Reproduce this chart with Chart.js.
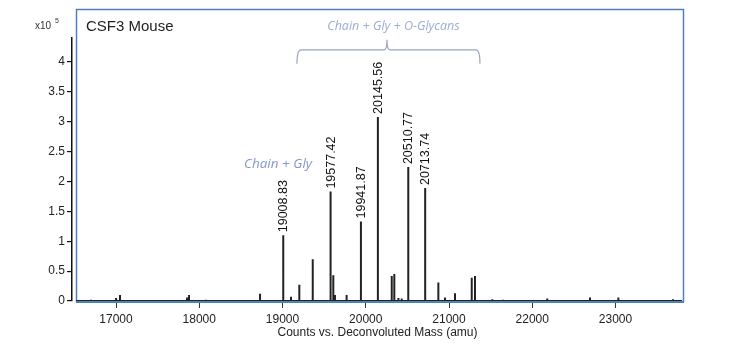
<!DOCTYPE html>
<html>
<head>
<meta charset="utf-8">
<script src="https://cdn.jsdelivr.net/npm/chart.js@4.4.1/dist/chart.umd.min.js"></script>
<style>
  html, body { margin: 0; padding: 0; background: #ffffff; }
  #wrap { width: 741px; height: 355px; position: relative; }
</style>
</head>
<body>
<div id="wrap"><canvas id="c" width="741" height="355"></canvas></div>
<script>
// ---- data (counts x10^5 vs deconvoluted mass, amu) ----
const peakMass = [16700, 17000, 17048, 17853, 17877, 18080, 18730, 19008.83, 19102, 19202, 19363,
  19577.42, 19610, 19630, 19770, 19941.87, 20145.56, 20312, 20343, 20392, 20432, 20510.77,
  20713.74, 20872, 20952, 21072, 21273, 21312, 21520, 21650, 22180, 22694, 23034, 23690];
const peakHeight = [0.02, 0.05, 0.10, 0.06, 0.10, 0.02, 0.12, 1.10, 0.07, 0.27, 0.70,
  1.83, 0.43, 0.10, 0.10, 1.33, 3.08, 0.42, 0.45, 0.05, 0.04, 2.24,
  1.89, 0.31, 0.06, 0.13, 0.39, 0.42, 0.03, 0.02, 0.04, 0.06, 0.06, 0.03];
const baselineMass = [16520, 23800];
const baselineHeight = [0, 0];
const labelledMass = [19008.83, 19577.42, 19941.87, 20145.56, 20510.77, 20713.74];
const labelledText = ["19008.83", "19577.42", "19941.87", "20145.56", "20510.77", "20713.74"];
const xTicks = [17000, 18000, 19000, 20000, 21000, 22000, 23000];
const yTicks = [0, 0.5, 1, 1.5, 2, 2.5, 3, 3.5, 4];
const yTickLabels = ["0", "0.5", "1", "1.5", "2", "2.5", "3", "3.5", "4"];
const titleText = "CSF3 Mouse";
const xTitle = "Counts vs. Deconvoluted Mass (amu)";
const chainGlyText = "Chain + Gly";
const oGlycanText = "Chain + Gly + O-Glycans";

// ---- build stick spectrum points ----
const pts = [];
baselineMass.forEach((m, i) => pts.push({x: m, y: baselineHeight[i]}));
peakMass.forEach((m, i) => {
  pts.push({x: m - 0.01, y: 0});
  pts.push({x: m, y: peakHeight[i]});
  pts.push({x: m + 0.01, y: 0});
});
pts.sort((a, b) => a.x - b.x);

const FONT = "'Liberation Sans', Arial, sans-serif";

const decor = {
  id: 'decor',
  beforeDatasetsDraw(chart) {
    const ctx = chart.ctx;
    ctx.save();
    ctx.strokeStyle = '#4f81bd';
    ctx.lineWidth = 1.5;
    ctx.beginPath();
    ctx.moveTo(76.5, 302);
    ctx.lineTo(76.5, 9.5);
    ctx.lineTo(683.5, 9.5);
    ctx.lineTo(683.5, 302);
    ctx.stroke();
    ctx.lineWidth = 2;
    ctx.beginPath();
    ctx.moveTo(76, 302);
    ctx.lineTo(684, 302);
    ctx.stroke();
    ctx.restore();
  },
  afterDraw(chart) {
    const ctx = chart.ctx;
    const xs = chart.scales.x, ys = chart.scales.y;
    ctx.save();
    // peak labels
    ctx.fillStyle = '#111';
    ctx.font = '12.5px ' + FONT;
    ctx.textAlign = 'left';
    ctx.textBaseline = 'middle';
    labelledMass.forEach((m, i) => {
      const h = peakHeight[peakMass.indexOf(m)];
      const px = xs.getPixelForValue(m);
      const py = ys.getPixelForValue(h) - 3;
      ctx.save();
      ctx.translate(px, py);
      ctx.rotate(-Math.PI / 2);
      ctx.fillText(labelledText[i], 0, 0.5);
      ctx.restore();
    });
    // title
    ctx.fillStyle = '#222';
    ctx.font = '15px ' + FONT;
    ctx.textBaseline = 'alphabetic';
    ctx.fillText(titleText, 86, 31);
    // x10^5
    ctx.font = '10px ' + FONT;
    ctx.fillStyle = '#333';
    ctx.fillText('x10', 35, 29);
    ctx.font = '7px ' + FONT;
    ctx.fillText('5', 55, 23);
    // annotations
    ctx.font = 'italic 13.5px "Open Sans", ' + FONT;
    ctx.textAlign = 'center';
    ctx.textBaseline = 'middle';
    ctx.fillStyle = '#8598c8';
    ctx.fillText(chainGlyText, xs.getPixelForValue(18946), ys.getPixelForValue(2.29));
    ctx.fillStyle = '#9cacd4';
    ctx.font = 'italic 12.5px "Open Sans", ' + FONT;
    ctx.fillText(oGlycanText, xs.getPixelForValue(20333), ys.getPixelForValue(4.59));
    // bracket
    const xl = xs.getPixelForValue(19174), xr = xs.getPixelForValue(21372), xm = xs.getPixelForValue(20255);
    const yl = ys.getPixelForValue(4.2), yt = ys.getPixelForValue(4.37), ye = ys.getPixelForValue(3.97);
    ctx.strokeStyle = '#9aa4bf';
    ctx.lineWidth = 1.2;
    ctx.beginPath();
    ctx.moveTo(xl, ye);
    ctx.quadraticCurveTo(xl, yl, xl + 4, yl);
    ctx.lineTo(xm - 3, yl);
    ctx.quadraticCurveTo(xm, yl, xm, yt);
    ctx.quadraticCurveTo(xm, yl, xm + 3, yl);
    ctx.lineTo(xr - 4, yl);
    ctx.quadraticCurveTo(xr, yl, xr, ye);
    ctx.stroke();
    ctx.restore();
  }
};

new Chart(document.getElementById('c'), {
  type: 'line',
  data: {
    datasets: [{
      data: pts,
      borderColor: '#222',
      borderWidth: 2,
      borderJoinStyle: 'bevel',
      pointRadius: 0,
      tension: 0,
      fill: false
    }]
  },
  options: {
    responsive: false,
    devicePixelRatio: 1,
    animation: false,
    layout: { padding: { left: 0, right: 58, top: 38, bottom: 0 } },
    plugins: { legend: { display: false }, tooltip: { enabled: false } },
    scales: {
      x: {
        type: 'linear',
        min: 16471,
        max: 23811,
        afterFit(s) { s.height = 54; },
        afterBuildTicks(s) { s.ticks = xTicks.map(v => ({value: v})); },
        border: { display: false },
        grid: { drawOnChartArea: false, drawTicks: true, tickLength: 7, color: '#333', lineWidth: 1 },
        ticks: { font: { family: FONT, size: 12 }, color: '#222', padding: 4, maxRotation: 0,
                 callback: v => String(v) },
        title: { display: true, text: xTitle, font: { family: FONT, size: 12 }, color: '#222',
                 padding: { top: 0, bottom: 15 } }
      },
      y: {
        min: 0,
        max: 4.4,
        afterFit(s) { s.width = 72; },
        afterBuildTicks(s) { s.ticks = yTicks.map(v => ({value: v})); },
        border: { display: true, color: '#111', width: 1.5 },
        grid: { drawOnChartArea: false, drawTicks: true, tickLength: 5, color: '#111', lineWidth: 1.2 },
        ticks: { font: { family: FONT, size: 12 }, color: '#222', padding: 2,
                 callback: (v) => yTickLabels[yTicks.indexOf(v)] }
      }
    }
  },
  plugins: [decor]
});
</script>
</body>
</html>
